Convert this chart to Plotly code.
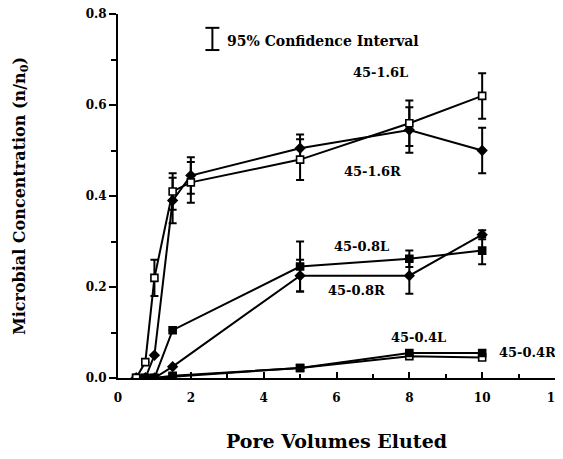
import plotly.graph_objects as go

x_pv = [0.5, 0.75, 1.0, 1.5, 2.0, 5.0, 8.0, 10.0]
x_pv8 = [0.5, 0.75, 1.0, 1.5, 5.0, 8.0, 10.0]

c16L = [0.0, 0.035, 0.22, 0.41, 0.43, 0.48, 0.56, 0.62]
e16L = [None, None, 0.04, 0.04, 0.045, 0.045, 0.05, 0.05]
c16R = [0.0, 0.0, 0.05, 0.39, 0.445, 0.505, 0.545, 0.50]
e16R = [None, None, None, 0.05, 0.04, 0.03, 0.05, 0.05]

c08L = [0.0, 0.0, 0.0, 0.105, 0.245, 0.262, 0.28]
e08L = [None, None, None, None, 0.055, 0.018, 0.03]
c08R = [0.0, 0.0, 0.0, 0.025, 0.225, 0.225, 0.315]
e08R = [None, None, None, None, 0.035, 0.04, 0.01]

c04L = [0.0, 0.0, 0.0, 0.005, 0.022, 0.055, 0.055]
c04R = [0.0, 0.0, 0.0, 0.003, 0.022, 0.048, 0.045]

labels = ["45-1.6L", "45-1.6R", "45-0.8L", "45-0.8R", "45-0.4L"]
label_x = [7.2, 7.0, 6.7, 6.55, 8.25]
label_y = [0.672, 0.453, 0.288, 0.193, 0.09]
label_r = "45-0.4R"
label_r_x = 10.42
label_r_y = 0.056

xticks = [0, 2, 4, 6, 8, 10, 12]
yticks = [0, 0.2, 0.4, 0.6, 0.8]

FONT = "DejaVu Serif"

def series(x, y, err, symbol, fill, name):
    tr = dict(x=x, y=y, mode="lines+markers", name=name, showlegend=False,
              line=dict(color="black", width=2),
              marker=dict(symbol=symbol, size=7, color=fill,
                          line=dict(color="black", width=1.6)))
    if err is not None:
        tr["error_y"] = dict(type="data", array=err, visible=True, color="black", thickness=2, width=4)
    return go.Scatter(**tr)

fig = go.Figure()
fig.add_trace(series(x_pv8, c04R, None, "square", "white", "45-0.4R"))
fig.add_trace(series(x_pv8, c04L, None, "square", "black", "45-0.4L"))
fig.add_trace(series(x_pv8, c08R, e08R, "diamond", "black", "45-0.8R"))
fig.add_trace(series(x_pv8, c08L, e08L, "square", "black", "45-0.8L"))
fig.add_trace(series(x_pv, c16R, e16R, "diamond", "black", "45-1.6R"))
fig.add_trace(series(x_pv, c16L, e16L, "square", "white", "45-1.6L"))

for t, lx, ly in zip(labels, label_x, label_y):
    fig.add_annotation(x=lx, y=ly, text="<b>%s</b>" % t, showarrow=False,
                       font=dict(family=FONT, size=13, color="black"))
fig.add_annotation(x=label_r_x, y=label_r_y, text="<b>%s</b>" % label_r, showarrow=False,
                   xanchor="left", font=dict(family=FONT, size=13, color="black"))

# confidence interval legend
fig.add_shape(type="line", xref="paper", yref="paper", x0=0.216, x1=0.216, y0=0.901, y1=0.962,
              line=dict(color="black", width=2))
fig.add_shape(type="line", xref="paper", yref="paper", x0=0.2, x1=0.232, y0=0.962, y1=0.962,
              line=dict(color="black", width=2))
fig.add_shape(type="line", xref="paper", yref="paper", x0=0.2, x1=0.232, y0=0.901, y1=0.901,
              line=dict(color="black", width=2))
fig.add_annotation(xref="paper", yref="paper", x=0.245, y=0.926, xanchor="left", yanchor="middle",
                   text="<b>95% Confidence Interval</b>", showarrow=False,
                   font=dict(family=FONT, size=14, color="black"))

fig.update_layout(
    width=555, height=451,
    margin=dict(l=110, r=8, t=6, b=81, autoexpand=False),
    plot_bgcolor="white", paper_bgcolor="white",
    font=dict(family=FONT, color="black"),
    xaxis=dict(range=[0, 12], tickvals=xticks, ticktext=["<b>%d</b>" % v for v in xticks],
               ticks="inside", ticklen=6, tickwidth=2, tickcolor="black", ticklabeloverflow="allow",
               ticklabelstandoff=8,
               minor=dict(tickvals=[1, 3, 5, 7, 9, 11], ticks="inside", ticklen=4, tickwidth=1.5, tickcolor="black"),
               showline=True, linewidth=2, linecolor="black", showgrid=False, zeroline=False,
               automargin=False, tickfont=dict(family=FONT, size=12, color="black"),
               title=dict(text="<b>Pore Volumes Eluted</b>", font=dict(family=FONT, size=19), standoff=30)),
    yaxis=dict(range=[0, 0.8], tickvals=yticks, ticktext=["<b>%.1f</b>" % v for v in yticks],
               ticks="outside", ticklen=7, tickwidth=2, tickcolor="black", ticklabeloverflow="allow",
               minor=dict(tickvals=[0.1, 0.3, 0.5, 0.7], ticks="outside", ticklen=5, tickwidth=1.5, tickcolor="black"),
               showline=True, linewidth=2, linecolor="black", showgrid=False, zeroline=False,
               automargin=False, tickfont=dict(family=FONT, size=12, color="black"),
               title=dict(text="<b>Microbial Concentration (n/n<sub>0</sub>)</b>", font=dict(family=FONT, size=16), standoff=56)),
)

fig.write_html("out.html")
